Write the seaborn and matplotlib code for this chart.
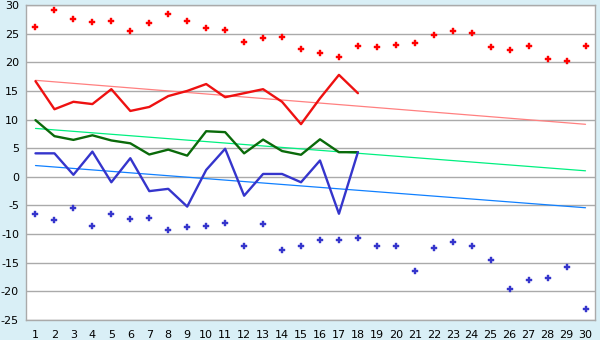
import matplotlib
matplotlib.use("Agg")
import matplotlib.pyplot as plt
import seaborn as sns
import pandas as pd
import numpy as np

days = list(range(1, 31))
days_obs = list(range(1, 19))

max_points = [26.1, 29.2, 27.5, 27.0, 27.2, 25.4, 26.8, 28.5, 27.2, 25.9,
              25.6, 23.5, 24.2, 24.4, 22.4, 21.7, 21.0, 22.8, 22.6, 23.1,
              23.3, 24.7, 25.4, 25.1, 22.6, 22.1, 22.8, 20.5, 20.2, 22.8]
min_points = [-6.55, -7.6, -5.5, -8.65, -6.55, -7.4, -7.25, -9.2, -8.8, -8.65,
              -8.1, -12.0, -8.3, -12.7, -12.1, -11.1, -11.1, -10.6, -12.1, -12.1,
              -16.5, -12.5, -11.4, -12.1, -14.6, -19.5, -18.1, -17.7, -15.8, -23.0]

max_line = [16.7, 11.8, 13.1, 12.7, 15.3, 11.5, 12.2, 14.1, 15.0, 16.2,
            13.9, 14.6, 15.3, 13.1, 9.2, 13.7, 17.8, 14.6]
mean_line = [9.9, 7.1, 6.45, 7.25, 6.35, 5.85, 3.9, 4.75, 3.7, 7.96,
             7.8, 4.1, 6.5, 4.5, 3.85, 6.55, 4.3, 4.3]
min_line = [4.1, 4.1, 0.35, 4.4, -0.95, 3.25, -2.5, -2.1, -5.2, 1.2,
            4.9, -3.3, 0.5, 0.5, -0.95, 2.85, -6.45, 4.3]

trend_days = [1, 30]
trend_max = [16.85, 9.17]
trend_mean = [8.45, 1.05]
trend_min = [1.97, -5.4]

y_ticks = list(range(-25, 31, 5))

sns.set_style("white")
plt.rcParams['font.family'] = ['DejaVu Sans']

bg = '#D9EFF6'
fig = plt.figure(figsize=(6, 3.4), dpi=100, facecolor=bg)
ax = fig.add_axes([26/600, 20/340, 569/600, 315/340])
ax.set_facecolor('white')

for y in y_ticks:
    ax.axhline(y, color='#AAAAAA', lw=1.0, zorder=0)

sns.lineplot(x=trend_days, y=trend_max, ax=ax, color='#FF8080', lw=0.9, zorder=2)
sns.lineplot(x=trend_days, y=trend_mean, ax=ax, color='#00F080', lw=0.9, zorder=2)
sns.lineplot(x=trend_days, y=trend_min, ax=ax, color='#1080FF', lw=0.9, zorder=2)

sns.lineplot(x=days_obs, y=max_line, ax=ax, color='#EE1111', lw=1.7, zorder=3)
sns.lineplot(x=days_obs, y=mean_line, ax=ax, color='#0A6A0A', lw=1.7, zorder=3)
sns.lineplot(x=days_obs, y=min_line, ax=ax, color='#3535CC', lw=1.7, zorder=3)

sns.scatterplot(x=days, y=max_points, ax=ax, color='#FF0000', marker='P', s=20,
                edgecolor='#FF0000', linewidth=0.3, zorder=4)
sns.scatterplot(x=days, y=min_points, ax=ax, color='#3535CC', marker='P', s=16,
                edgecolor='#3535CC', linewidth=0.3, zorder=4)

ax.set_xlim(0.5, 30.5)
ax.set_ylim(-25, 30)
ax.set_xticks(days)
ax.set_xticklabels([str(d) for d in days])
ax.set_yticks(y_ticks)
ax.set_yticklabels([str(y) for y in y_ticks])
ax.tick_params(axis='both', direction='out', length=5, width=1, color='#888888',
               labelsize=8, labelcolor='black', pad=2)
ax.tick_params(axis='y', length=4, pad=1)
for s in ax.spines.values():
    s.set_color('#AAAAAA')
    s.set_linewidth(1)
ax.set_xlabel('')
ax.set_ylabel('')
if ax.get_legend():
    ax.get_legend().remove()

fig.savefig('out.png', dpi=100, facecolor=bg)
